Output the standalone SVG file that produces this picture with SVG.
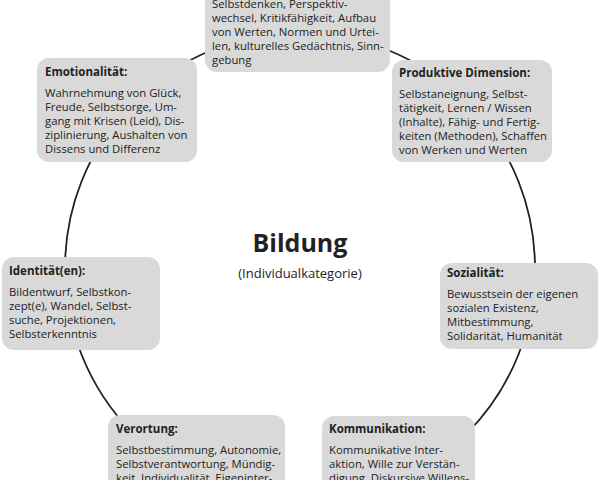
<svg xmlns="http://www.w3.org/2000/svg" width="600" height="480" viewBox="0 0 600 480">
<style>
.b{fill:#d9d9d9}
text{font-family:"Open Sans","Liberation Sans",sans-serif;font-size:11.3px;fill:#222}
.t{font-weight:bold;font-size:11.5px}
</style>
<rect width="600" height="480" fill="#fff"/>
<g id="connectors"><circle cx="300" cy="268" r="235" fill="none" stroke="#222" stroke-width="1.8"/></g>
<g id="top"><rect class="b" x="205" y="-12" width="185" height="84" rx="12"/>
<text x="212" y="8">Selbstdenken, Perspektiv-</text><text x="212" y="22">wechsel, Kritikfähigkeit, Aufbau</text><text x="212" y="36">von Werten, Normen und Urtei-</text><text x="212" y="50">len, kulturelles Gedächtnis, Sinn-</text><text x="212" y="64">gebung</text></g>
<g id="emo"><rect class="b" x="37" y="58" width="160" height="104" rx="12"/>
<text class="t" x="45" y="76">Emotionalität:</text><text x="45" y="97">Wahrnehmung von Glück,</text><text x="45" y="111">Freude, Selbstsorge, Um-</text><text x="45" y="125">gang mit Krisen (Leid), Dis-</text><text x="45" y="139">ziplinierung, Aushalten von</text><text x="45" y="153">Dissens und Differenz</text></g>
<g id="prod"><rect class="b" x="392" y="60" width="160" height="102" rx="12"/>
<text class="t" x="399" y="77">Produktive Dimension:</text><text x="399" y="98">Selbstaneignung, Selbst-</text><text x="399" y="112">tätigkeit, Lernen / Wissen</text><text x="399" y="126">(Inhalte), Fähig- und Fertig-</text><text x="399" y="140">keiten (Methoden), Schaffen</text><text x="399" y="154">von Werken und Werten</text></g>
<g id="ident"><rect class="b" x="2" y="257" width="158" height="93" rx="12"/>
<text class="t" x="9" y="275">Identität(en):</text><text x="9" y="296">Bildentwurf, Selbstkon-</text><text x="9" y="310">zept(e), Wandel, Selbst-</text><text x="9" y="324">suche, Projektionen,</text><text x="9" y="338">Selbsterkenntnis</text></g>
<g id="sozial"><rect class="b" x="440" y="263" width="158" height="86" rx="12"/>
<text class="t" x="447" y="277">Sozialität:</text><text x="447" y="298">Bewusstsein der eigenen</text><text x="447" y="312">sozialen Existenz,</text><text x="447" y="326">Mitbestimmung,</text><text x="447" y="340">Solidarität, Humanität</text></g>
<g id="veroert"><rect class="b" x="108" y="415" width="177" height="80" rx="12"/>
<text class="t" x="116" y="433">Verortung:</text><text x="116" y="454">Selbstbestimmung, Autonomie,</text><text x="116" y="468">Selbstverantwortung, Mündig-</text><text x="116" y="482">keit, Individualität, Eigeninter-</text></g>
<g id="komm"><rect class="b" x="322" y="416" width="153" height="80" rx="12"/>
<text class="t" x="329" y="433">Kommunikation:</text><text x="329" y="454">Kommunikative Inter-</text><text x="329" y="468">aktion, Wille zur Verstän-</text><text x="329" y="482">digung, Diskursive Willens-</text></g>
<g id="center"><text x="300" y="252" text-anchor="middle" style="font-size:25px;font-weight:bold">Bildung</text>
<text x="300" y="278" text-anchor="middle" style="font-size:13px">(Individualkategorie)</text></g>
</svg>
